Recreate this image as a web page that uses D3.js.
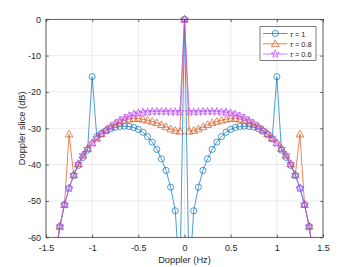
<!DOCTYPE html>
<html><head><meta charset="utf-8">
<script src="https://cdn.jsdelivr.net/npm/d3@7"></script>
<style>html,body{margin:0;padding:0;background:#fff;}svg{display:block;}</style>
</head><body>
<svg id="c" width="357" height="267"></svg>
<script>
const dopplerHz = [-1.5,-1.45,-1.4,-1.35,-1.3,-1.25,-1.2,-1.15,-1.1,-1.05,-1,-0.95,-0.9,-0.85,-0.8,-0.75,-0.7,-0.65,-0.6,-0.55,-0.5,-0.45,-0.4,-0.35,-0.3,-0.25,-0.2,-0.15,-0.1,-0.05,0,0.05,0.1,0.15,0.2,0.25,0.3,0.35,0.4,0.45,0.5,0.55,0.6,0.65,0.7,0.75,0.8,0.85,0.9,0.95,1,1.05,1.1,1.15,1.2,1.25,1.3,1.35,1.4,1.45,1.5];
const tau1 = [-90,-75,-65.5,-57.0,-51.0,-46.5,-43.0,-40.2,-38.0,-36.0,-15.8,-32.3,-31.4,-30.7,-30.1,-29.7,-29.5,-29.4,-29.5,-29.8,-30.3,-31.1,-32.3,-33.8,-35.8,-38.4,-41.6,-46.2,-52.7,-72,0,-72,-52.7,-46.2,-41.6,-38.4,-35.8,-33.8,-32.3,-31.1,-30.3,-29.8,-29.5,-29.4,-29.5,-29.7,-30.1,-30.8,-31.7,-32.9,-15.8,-36.0,-38.0,-40.2,-43.0,-46.5,-51.0,-57.0,-65.5,-75,-90];
const tau08 = [-90,-75,-65.5,-57.0,-51.0,-31.6,-42.8,-39.8,-37.4,-35.6,-34.0,-32.7,-31.5,-30.5,-29.6,-28.9,-28.3,-27.8,-27.5,-27.3,-27.3,-27.5,-27.8,-28.1,-28.5,-29.0,-29.6,-30.2,-30.6,-30.8,0,-30.8,-30.6,-30.2,-29.6,-29.0,-28.5,-28.1,-27.8,-27.5,-27.3,-27.3,-27.5,-27.8,-28.3,-28.9,-29.6,-30.5,-31.5,-32.7,-34.0,-35.6,-37.4,-39.8,-42.8,-31.6,-51.0,-57.0,-65.5,-75,-90];
const tau06 = [-90,-75,-65.5,-57.0,-51.0,-46.5,-42.8,-39.8,-37.4,-35.6,-34.1,-32.8,-31.6,-30.6,-29.6,-28.7,-27.9,-27.2,-26.6,-26.1,-25.8,-25.6,-25.5,-25.4,-25.4,-25.4,-25.4,-25.5,-25.5,-25.5,0,-25.5,-25.5,-25.5,-25.4,-25.4,-25.4,-25.4,-25.5,-25.6,-25.8,-26.1,-26.6,-27.2,-27.9,-28.7,-29.6,-30.6,-31.6,-32.8,-34.1,-35.6,-37.4,-39.8,-42.8,-46.5,-51.0,-57.0,-65.5,-75,-90];
const seriesNames = ["τ = 1","τ = 0.8","τ = 0.6"];
const xTicks = [-1.5,-1,-0.5,0,0.5,1,1.5];
const yTicks = [-60,-50,-40,-30,-20,-10,0];

const series = [
  {name: seriesNames[0], values: tau1, color: "#0072BD", marker: "circle"},
  {name: seriesNames[1], values: tau08, color: "#D95319", marker: "triangle"},
  {name: seriesNames[2], values: tau06, color: "#B84DF2", marker: "star"}
];

const svg = d3.select("#c");
const L = 46, R = 323, T = 19.3, B = 237.3;
const x = d3.scaleLinear().domain([-1.5, 1.5]).range([L, R]);
const y = d3.scaleLinear().domain([-60, 0]).range([B, T]);
const axisColor = "#262626";
const font = "'Liberation Sans', Arial, Helvetica, sans-serif";

// grid
const g = svg.append("g");
g.selectAll(".gx").data(xTicks).enter().append("line")
  .attr("x1", d => x(d)).attr("x2", d => x(d)).attr("y1", T).attr("y2", B)
  .attr("stroke", "#dfdfdf").attr("stroke-width", 0.6);
g.selectAll(".gy").data(yTicks).enter().append("line")
  .attr("y1", d => y(d)).attr("y2", d => y(d)).attr("x1", L).attr("x2", R)
  .attr("stroke", "#dfdfdf").attr("stroke-width", 0.6);

// clip
svg.append("defs").append("clipPath").attr("id", "clip")
  .append("rect").attr("x", L).attr("y", T - 4).attr("width", R - L).attr("height", B - T + 4);

const plot = svg.append("g").attr("clip-path", "url(#clip)");
const line = d3.line().x((d, i) => x(dopplerHz[i])).y(d => y(d));

function markerPath(type) {
  if (type === "circle") return d3.symbol(d3.symbolCircle, 30)();
  if (type === "triangle") return d3.symbol(d3.symbolTriangle, 26)();
  return d3.symbol(d3.symbolStar, 20)();
}

series.forEach(s => {
  plot.append("path").attr("d", line(s.values)).attr("fill", "none")
    .attr("stroke", s.color).attr("stroke-width", 0.7);
  const mp = markerPath(s.marker);
  plot.selectAll(null).data(s.values).enter().append("path")
    .attr("d", mp)
    .attr("transform", (d, i) => `translate(${x(dopplerHz[i])},${y(d) + (s.marker === "triangle" ? 0.6 : 0)})`)
    .attr("fill", "none").attr("stroke", s.color).attr("stroke-width", 0.7);
});

// box
svg.append("rect").attr("x", L).attr("y", T).attr("width", R - L).attr("height", B - T)
  .attr("fill", "none").attr("stroke", axisColor).attr("stroke-width", 0.7);

// axes
const fmt = d => String(d);
svg.append("g").attr("transform", `translate(0,${B})`)
  .call(d3.axisBottom(x).tickValues(xTicks).tickSize(-2.8).tickPadding(7).tickFormat(fmt));
svg.append("g").attr("transform", `translate(${L},0)`)
  .call(d3.axisLeft(y).tickValues(yTicks).tickSize(-2.8).tickPadding(5).tickFormat(fmt));
svg.append("g").attr("transform", `translate(0,${T})`)
  .call(d3.axisTop(x).tickValues(xTicks).tickSize(-2.8).tickFormat(""));
svg.append("g").attr("transform", `translate(${R},0)`)
  .call(d3.axisRight(y).tickValues(yTicks).tickSize(-2.8).tickFormat(""));
svg.selectAll(".domain").remove();
svg.selectAll(".tick line").attr("stroke", axisColor).attr("stroke-width", 0.7);
svg.selectAll(".tick text").attr("fill", axisColor).style("font-family", font).style("font-size", "9px");

// labels
svg.append("text").attr("x", (L + R) / 2).attr("y", 263).attr("text-anchor", "middle")
  .attr("fill", axisColor).style("font-family", font).style("font-size", "9.3px").text("Doppler (Hz)");
svg.append("text").attr("transform", `translate(22,${(T + B) / 2}) rotate(-90)`).attr("text-anchor", "middle")
  .attr("dominant-baseline", "central")
  .attr("fill", axisColor).style("font-family", font).style("font-size", "9.3px").text("Doppler slice (dB)");

// legend
const lg = svg.append("g");
lg.append("rect").attr("x", 260).attr("y", 26.7).attr("width", 56).attr("height", 33.6)
  .attr("fill", "#fff").attr("stroke", axisColor).attr("stroke-width", 0.6);
series.forEach((s, i) => {
  const yy = 33.5 + i * 10.3;
  lg.append("line").attr("x1", 263).attr("x2", 287.5).attr("y1", yy).attr("y2", yy)
    .attr("stroke", s.color).attr("stroke-width", 0.7);
  lg.append("path").attr("d", markerPath(s.marker)).attr("transform", `translate(275.3,${yy + (s.marker === "triangle" ? 0.6 : 0)})`)
    .attr("fill", "none").attr("stroke", s.color).attr("stroke-width", 0.7);
  const t = lg.append("text").attr("x", 290).attr("y", yy).attr("dominant-baseline", "central")
    .attr("fill", axisColor).style("font-family", font).style("font-size", "7.5px");
  t.append("tspan").style("font-style", "italic").text(s.name.slice(0, 1));
  t.append("tspan").text(s.name.slice(1));
});
</script>
</body></html>
